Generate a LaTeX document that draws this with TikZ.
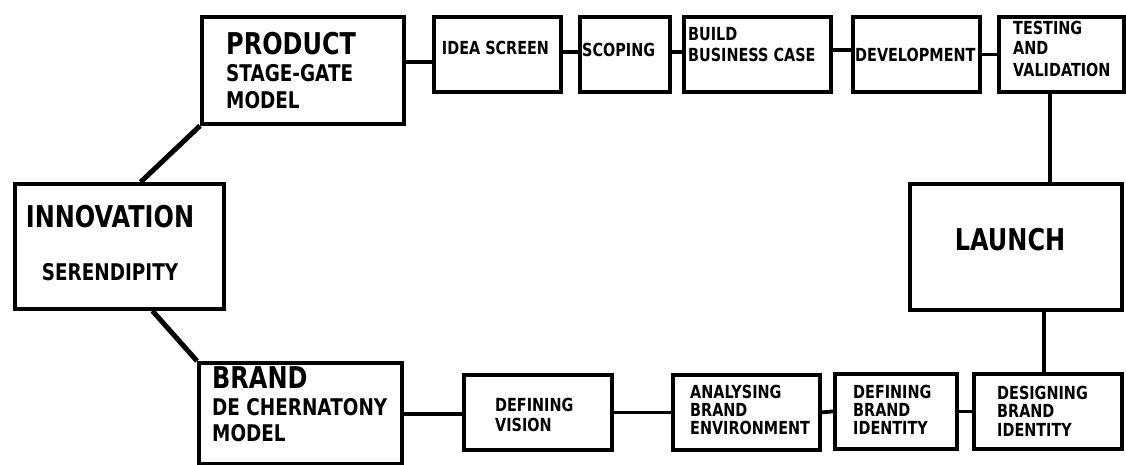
\documentclass[tikz,border=0pt]{standalone}
\usepackage{fontspec}
\setmainfont{DejaVu Sans}[FakeStretch=0.8]
\usetikzlibrary{calc}
\newcommand{\fbig}{\fontsize{30}{30}\selectfont\bfseries}
\newcommand{\fmid}{\fontsize{23}{23}\selectfont\bfseries}
\newcommand{\fsml}{\fontsize{18}{18}\selectfont\bfseries}
\begin{document}
\begin{tikzpicture}[x=1pt,y=-1pt,
  box/.style={draw, line width=3.8pt, rectangle, inner sep=0pt, anchor=north west},
  txt/.style={inner sep=0pt, anchor=west, font=\fsml},
  txtc/.style={inner sep=0pt, anchor=center, font=\fsml},
  conn/.style={line width=3.8pt},
  diag/.style={line width=5pt}]
\useasboundingbox (0,0) rectangle (1126,464);

% boxes
\node[box, minimum width=202pt, minimum height=107pt] (product) at (200,15) {};
\node[box, minimum width=127pt, minimum height=75pt] (idea) at (432,15) {};
\node[box, minimum width=90pt, minimum height=75pt] (scoping) at (578,15) {};
\node[box, minimum width=147pt, minimum height=75pt] (build) at (682,15) {};
\node[box, minimum width=127pt, minimum height=75pt] (dev) at (851,15) {};
\node[box, minimum width=125pt, minimum height=75pt] (test) at (997,15) {};
\node[box, minimum width=212pt, minimum height=126pt] (launch) at (908,182) {};
\node[box, minimum width=209pt, minimum height=125pt] (innov) at (13,182) {};
\node[box, minimum width=203pt, minimum height=101pt] (brand) at (197,361) {};
\node[box, minimum width=148pt, minimum height=75pt] (vision) at (462,373) {};
\node[box, minimum width=147pt, minimum height=75pt] (analys) at (671,373) {};
\node[box, minimum width=122pt, minimum height=75pt] (defbrand) at (833,372) {};
\node[box, minimum width=148pt, minimum height=75pt] (design) at (972,372) {};

% texts
\node[txt, font=\fbig] (productA) at (226,44) {PRODUCT};
\node[txt, font=\fmid] (productB) at (226,73) {STAGE-GATE};
\node[txt, font=\fmid] (productC) at (226,100) {MODEL};
\node[txtc] (ideaA) at (495.5,48) {IDEA SCREEN};
\node[txt] (scopingA) at (582,50) {SCOPING};
\node[txt] (buildA) at (688,34) {BUILD};
\node[txt] (buildB) at (688,55) {BUSINESS CASE};
\node[txt] (devA) at (855,55) {DEVELOPMENT};
\node[txt] (testA) at (1013,28) {TESTING};
\node[txt] (testB) at (1013,48) {AND};
\node[txt] (testC) at (1013,70) {VALIDATION};
\node[txtc, font=\fbig] (innovA) at (110,217) {INNOVATION};
\node[txtc, font=\fmid] (innovB) at (110,272) {SERENDIPITY};
\node[txtc, font=\fbig] (launchA) at (1010,240) {LAUNCH};
\node[txt, font=\fbig] (brandA) at (212,378) {BRAND};
\node[txt, font=\fmid] (brandB) at (212,407) {DE CHERNATONY};
\node[txt, font=\fmid] (brandC) at (212,433) {MODEL};
\node[txt] (visionA) at (495,405) {DEFINING};
\node[txt] (visionB) at (495,425) {VISION};
\node[txt] (analysA) at (690,392) {ANALYSING};
\node[txt] (analysB) at (690,410) {BRAND};
\node[txt] (analysC) at (690,428) {ENVIRONMENT};
\node[txt] (defbrandA) at (853,392) {DEFINING};
\node[txt] (defbrandB) at (853,410) {BRAND};
\node[txt] (defbrandC) at (853,428) {IDENTITY};
\node[txt] (designA) at (997,393) {DESIGNING};
\node[txt] (designB) at (997,411) {BRAND};
\node[txt] (designC) at (997,430) {IDENTITY};

% connectors
\draw[conn] ([yshift=-7.5pt]idea.west) -- ([yshift=-7.5pt]idea.west -| product.east);
\draw[conn] ([yshift=2.5pt]idea.east) -- ([yshift=2.5pt]idea.east -| scoping.west);
\draw[conn] ([yshift=2.5pt]scoping.east) -- ([yshift=2.5pt]scoping.east -| build.west);
\draw[conn] ([yshift=4.5pt]build.east) -- ([yshift=4.5pt]build.east -| dev.west);
\draw[conn] (dev.east) -- (test.west);
\draw[conn] ([xshift=-11.5pt]test.south) -- ([xshift=-11.5pt]test.south |- launch.north);
\draw[conn] ([xshift=28pt]launch.south) -- ([xshift=28pt]launch.south |- design.north);
\draw[conn] (design.west) -- (defbrand.east);
\draw[conn] (defbrand.west) -- (analys.east);
\draw[conn] (analys.west) -- (vision.east);
\draw[conn] ([yshift=-1.5pt]vision.west) -- ([yshift=-1.5pt]vision.west -| brand.east);
\draw[diag] (product.south west) -- ($(innov.north west)!0.6!(innov.north east)$);
\draw[diag] ($(innov.south west)!0.655!(innov.south east)$) -- (brand.north west);
\end{tikzpicture}
\end{document}
